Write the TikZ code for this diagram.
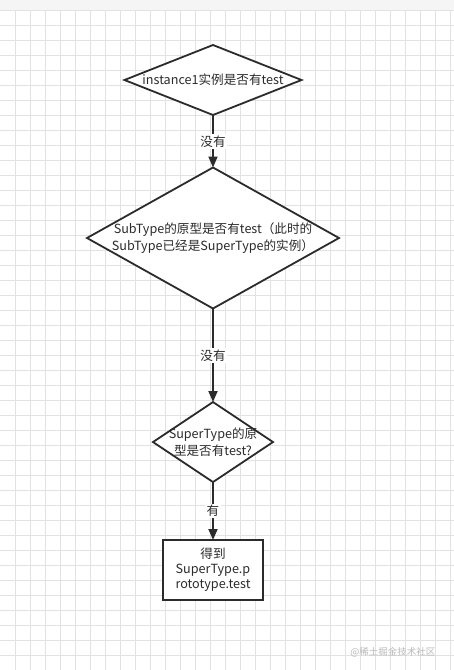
\documentclass[tikz,border=0pt]{standalone}
\usepackage{fontspec}
\setmainfont{Noto Sans CJK SC}
\usetikzlibrary{shapes.geometric,arrows.meta}
\definecolor{linecol}{HTML}{2B2B2B}
\definecolor{gridcol}{HTML}{E2E2E2}
\tikzset{
  decision/.style={diamond, draw=linecol, line width=1.8pt, fill=white, inner sep=0pt, outer sep=0pt},
  result/.style={rectangle, draw=linecol, line width=1.8pt, fill=white, inner sep=0pt, outer sep=0pt},
  flowtext/.style={align=center, text=linecol, font=\fontsize{12.6}{16.5}\selectfont},
  flowarrow/.style={draw=linecol, line width=1.8pt, -{Triangle[length=11pt,width=9pt]}},
  edgelabel/.style={midway, fill=white, inner sep=1.5pt, text=linecol, font=\fontsize{12.6}{14}\selectfont}
}
\begin{document}
\begin{tikzpicture}[x=1pt, y=-1pt]
\useasboundingbox (0,0) rectangle (454,670);
\fill[white] (0,0) rectangle (454,670);
\fill[gray!8] (0,0) rectangle (454,10);
% grid
\foreach \gx in {15,30,...,450} \draw[gridcol, line width=0.7pt] (\gx,10) -- (\gx,670);
\foreach \gy in {10,25,...,665} \draw[gridcol, line width=0.7pt] (0,\gy) -- (454,\gy);
% shapes
\node[decision, minimum width=177pt, minimum height=70pt] (instq) at (213,80) {};
\node[flowtext] (instqtext) at (instq) {instance1实例是否有test};
\node[decision, minimum width=252pt, minimum height=141pt] (subq) at (213,238) {};
\node[flowtext] (subqtext) at (subq) {SubType的原型是否有test（此时的\\SubType已经是SuperType的实例）};
\node[decision, minimum width=120pt, minimum height=80pt] (superq) at (213,442) {};
\node[flowtext] (superqtext) at (superq) {SuperType的原\\型是否有test?};
\node[result, minimum width=100pt, minimum height=60pt] (found) at (213,570) {};
\node[flowtext, font=\fontsize{12.6}{15}\selectfont] (foundtext) at (found) {得到\\SuperType.p\\rototype.test};
% arrows
\draw[flowarrow] (instq.south) -- (subq.north) node[edgelabel] (noa) {没有};
\draw[flowarrow] (subq.south) -- (superq.north) node[edgelabel] (nob) {没有};
\draw[flowarrow] (superq.south) -- (found.north) node[edgelabel] (yes) {有};
\node[anchor=east, text=gray!55, font=\fontsize{9.5}{11}\selectfont] (mark) at (439,652) {@稀土掘金技术社区};
\end{tikzpicture}
\end{document}
